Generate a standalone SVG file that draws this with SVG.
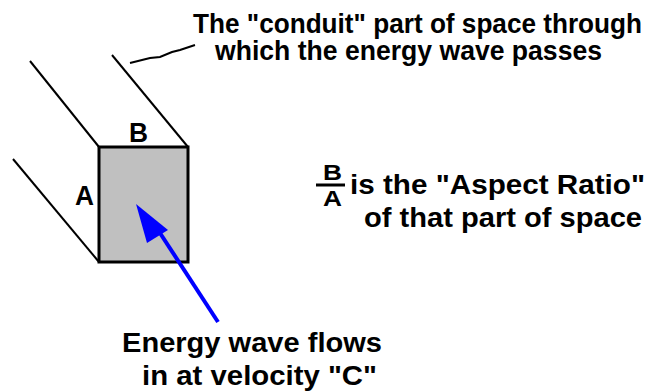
<svg xmlns="http://www.w3.org/2000/svg" width="657" height="391" viewBox="0 0 657 391">
<style>
text{font-family:"Liberation Sans",Arial,sans-serif;font-weight:bold;fill:#000}
.t{font-size:27px}
.f{font-size:22px}
.edge{stroke:#000;stroke-width:2;fill:none}
</style>
<rect width="657" height="391" fill="#fff"/>
<g id="conduit">
<line class="edge" x1="30" y1="61" x2="99" y2="147"/>
<line class="edge" x1="112" y1="55" x2="188" y2="147"/>
<line class="edge" x1="13" y1="159" x2="99" y2="262"/>
</g>
<g id="face">
<rect x="99" y="147" width="89" height="115" fill="#c0c0c0" stroke="#000" stroke-width="3"/>
<text class="t" x="129" y="142" textLength="19" lengthAdjust="spacingAndGlyphs">B</text>
<text class="t" x="75" y="205" textLength="19" lengthAdjust="spacingAndGlyphs">A</text>
</g>
<g id="connectors">
<polyline class="edge" points="130,63 150,58 160,57 172,52 180,50 195,45"/>
<line x1="218" y1="322" x2="160" y2="233" stroke="#0000ff" stroke-width="4"/>
<polygon points="136,204 147,243 168,230" fill="#0000ff"/>
</g>
<g id="label-conduit">
<text class="t" x="193" y="33" textLength="449" lengthAdjust="spacingAndGlyphs">The "conduit" part of space through</text>
<text class="t" x="215" y="60" textLength="387" lengthAdjust="spacingAndGlyphs">which the energy wave passes</text>
</g>
<g id="label-ratio">
<text class="f" x="323" y="180" textLength="19" lengthAdjust="spacingAndGlyphs">B</text>
<line x1="316" y1="185" x2="345" y2="185" stroke="#000" stroke-width="3"/>
<text class="f" x="323" y="206" textLength="19" lengthAdjust="spacingAndGlyphs">A</text>
<text class="t" x="350" y="194" textLength="295" lengthAdjust="spacingAndGlyphs">is the "Aspect Ratio"</text>
<text class="t" x="364" y="227" textLength="278" lengthAdjust="spacingAndGlyphs">of that part of space</text>
</g>
<g id="label-flow">
<text class="t" x="122" y="352" textLength="260" lengthAdjust="spacingAndGlyphs">Energy wave flows</text>
<text class="t" x="142" y="385" textLength="235" lengthAdjust="spacingAndGlyphs">in at velocity "C"</text>
</g>
</svg>
